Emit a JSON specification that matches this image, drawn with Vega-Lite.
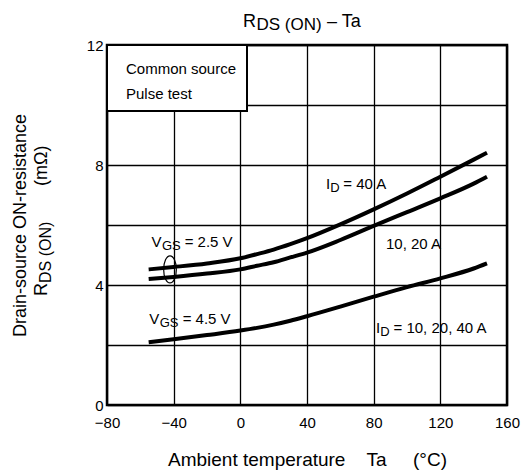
{
  "$schema": "https://vega.github.io/schema/vega-lite/v6.json",
  "width": 400,
  "height": 360,
  "autosize": {"type": "none"},
  "padding": {"left": 107, "top": 45, "right": 14, "bottom": 68},
  "background": "white",
  "config": {
    "view": {"stroke": "black", "strokeWidth": 2.5},
    "font": "Liberation Sans",
    "text": {"font": "Liberation Sans", "color": "black"}
  },
  "datasets": {
    "curves": [
      {"T": -55, "R": 4.52, "s": "40A"}, {"T": -40, "R": 4.60, "s": "40A"}, {"T": -20, "R": 4.72, "s": "40A"},
      {"T": 0, "R": 4.89, "s": "40A"}, {"T": 10, "R": 5.03, "s": "40A"}, {"T": 20, "R": 5.18, "s": "40A"},
      {"T": 30, "R": 5.36, "s": "40A"}, {"T": 40, "R": 5.56, "s": "40A"}, {"T": 60, "R": 6.02, "s": "40A"},
      {"T": 80, "R": 6.52, "s": "40A"}, {"T": 100, "R": 7.05, "s": "40A"}, {"T": 120, "R": 7.61, "s": "40A"},
      {"T": 140, "R": 8.18, "s": "40A"}, {"T": 148, "R": 8.41, "s": "40A"},
      {"T": -55, "R": 4.20, "s": "1020A"}, {"T": -40, "R": 4.27, "s": "1020A"}, {"T": -20, "R": 4.38, "s": "1020A"},
      {"T": 0, "R": 4.52, "s": "1020A"}, {"T": 10, "R": 4.64, "s": "1020A"}, {"T": 20, "R": 4.76, "s": "1020A"},
      {"T": 30, "R": 4.92, "s": "1020A"}, {"T": 40, "R": 5.08, "s": "1020A"}, {"T": 60, "R": 5.50, "s": "1020A"},
      {"T": 80, "R": 5.97, "s": "1020A"}, {"T": 100, "R": 6.43, "s": "1020A"}, {"T": 120, "R": 6.89, "s": "1020A"},
      {"T": 140, "R": 7.38, "s": "1020A"}, {"T": 148, "R": 7.61, "s": "1020A"},
      {"T": -55, "R": 2.09, "s": "45V"}, {"T": -40, "R": 2.19, "s": "45V"}, {"T": -20, "R": 2.33, "s": "45V"},
      {"T": 0, "R": 2.48, "s": "45V"}, {"T": 10, "R": 2.57, "s": "45V"}, {"T": 20, "R": 2.68, "s": "45V"},
      {"T": 30, "R": 2.81, "s": "45V"}, {"T": 40, "R": 2.96, "s": "45V"}, {"T": 60, "R": 3.28, "s": "45V"},
      {"T": 80, "R": 3.61, "s": "45V"}, {"T": 100, "R": 3.93, "s": "45V"}, {"T": 120, "R": 4.22, "s": "45V"},
      {"T": 140, "R": 4.55, "s": "45V"}, {"T": 148, "R": 4.72, "s": "45V"}
    ],
    "box": [{"T": -80, "T2": 4, "R": 9.8, "R2": 12}],
    "oval": [{"T": -42.2, "R": 4.52}],
    "notes": [
      {"T": 1.6, "R": 12.61, "txt": "R", "kind": "tn"},
      {"T": 9.7, "R": 12.61, "txt": "DS (ON)", "kind": "ts"},
      {"T": 52.0, "R": 12.61, "txt": "– Ta", "kind": "tn"},
      {"T": -116, "R": 3.633, "txt": "R", "kind": "yn"},
      {"T": -116, "R": 4.067, "txt": "DS (ON)", "kind": "ys"},
      {"T": -116, "R": 7.3, "txt": "(mΩ)", "kind": "yn"},
      {"T": -68.6, "R": 11.03, "txt": "Common source", "kind": "n"},
      {"T": -68.6, "R": 10.2, "txt": "Pulse test", "kind": "n"},
      {"T": -53.3, "R": 5.257, "txt": "V", "kind": "n"},
      {"T": -47.0, "R": 5.257, "txt": "GS", "kind": "s"},
      {"T": -33.4, "R": 5.257, "txt": "= 2.5 V", "kind": "n"},
      {"T": -54.6, "R": 2.7, "txt": "V", "kind": "n"},
      {"T": -48.4, "R": 2.7, "txt": "GS", "kind": "s"},
      {"T": -34.6, "R": 2.7, "txt": "= 4.5 V", "kind": "n"},
      {"T": 51.4, "R": 7.19, "txt": "I", "kind": "n"},
      {"T": 53.9, "R": 7.19, "txt": "D", "kind": "s"},
      {"T": 61.8, "R": 7.19, "txt": "= 40 A", "kind": "n"},
      {"T": 87.4, "R": 5.19, "txt": "10, 20 A", "kind": "n"},
      {"T": 81.4, "R": 2.4, "txt": "I", "kind": "n"},
      {"T": 83.9, "R": 2.4, "txt": "D", "kind": "s"},
      {"T": 91.9, "R": 2.4, "txt": "= 10, 20, 40 A", "kind": "n"}
    ]
  },
  "encoding": {
    "x": {
      "field": "T", "type": "quantitative",
      "scale": {"domain": [-80, 160], "nice": false, "zero": false},
      "axis": {
        "values": [-80, -40, 0, 40, 80, 120, 160],
        "grid": true, "gridColor": "black", "gridWidth": 1.3, "gridOpacity": 1,
        "domain": false, "ticks": false,
        "labelPadding": 10, "labelFontSize": 15, "labelColor": "black", "labelFlush": false,
        "labelFont": "Liberation Sans",
        "title": "Ambient temperature\u00a0\u00a0\u00a0\u00a0Ta\u00a0\u00a0\u00a0\u00a0\u00a0(°C)",
        "titleFont": "Liberation Sans", "titleFontSize": 19, "titleFontWeight": "normal", "titleColor": "black",
        "titleX": 200, "titleY": 60, "titleBaseline": "alphabetic", "titleAlign": "center"
      }
    },
    "y": {
      "field": "R", "type": "quantitative",
      "scale": {"domain": [0, 12], "nice": false, "zero": false},
      "axis": {
        "values": [0, 2, 4, 6, 8, 10, 12],
        "labelExpr": "datum.value % 4 === 0 ? datum.label : ''",
        "grid": true, "gridColor": "black", "gridWidth": 1.3, "gridOpacity": 1,
        "domain": false, "ticks": false,
        "labelPadding": 4, "labelFontSize": 15, "labelColor": "black", "labelFont": "Liberation Sans",
        "title": "Drain-source ON-resistance",
        "titleFont": "Liberation Sans", "titleFontSize": 18, "titleFontWeight": "normal", "titleColor": "black",
        "titleAngle": 270, "titleX": -81.5, "titleY": 180, "titleBaseline": "alphabetic", "titleAlign": "center"
      }
    }
  },
  "layer": [
    {
      "data": {"name": "curves"},
      "mark": {"type": "line", "color": "black", "strokeWidth": 4, "strokeCap": "butt", "interpolate": "monotone"},
      "encoding": {"detail": {"field": "s"}}
    },
    {
      "data": {"name": "box"},
      "mark": {"type": "rect", "fill": "white", "stroke": "black", "strokeWidth": 2},
      "encoding": {"x2": {"field": "T2"}, "y2": {"field": "R2"}}
    },
    {
      "data": {"name": "oval"},
      "mark": {"type": "point", "shape": "M0,-1A0.47,1,0,1,1,0,1A0.47,1,0,1,1,0,-1Z", "size": 729, "filled": false, "stroke": "black", "strokeWidth": 1.2, "opacity": 1}
    },
    {
      "data": {"name": "notes"},
      "transform": [{"filter": "datum.kind === 'n'"}],
      "mark": {"type": "text", "align": "left", "baseline": "alphabetic", "fontSize": 15, "color": "black"},
      "encoding": {"text": {"field": "txt"}}
    },
    {
      "data": {"name": "notes"},
      "transform": [{"filter": "datum.kind === 's'"}],
      "mark": {"type": "text", "align": "left", "baseline": "alphabetic", "fontSize": 13, "dy": 3, "color": "black"},
      "encoding": {"text": {"field": "txt"}}
    },
    {
      "data": {"name": "notes"},
      "transform": [{"filter": "datum.kind === 'tn'"}],
      "mark": {"type": "text", "align": "left", "baseline": "alphabetic", "fontSize": 18, "color": "black"},
      "encoding": {"text": {"field": "txt"}}
    },
    {
      "data": {"name": "notes"},
      "transform": [{"filter": "datum.kind === 'ts'"}],
      "mark": {"type": "text", "align": "left", "baseline": "alphabetic", "fontSize": 17, "dy": 3.5, "color": "black"},
      "encoding": {"text": {"field": "txt"}}
    },
    {
      "data": {"name": "notes"},
      "transform": [{"filter": "datum.kind === 'yn'"}],
      "mark": {"type": "text", "align": "left", "baseline": "alphabetic", "fontSize": 18, "angle": 270, "color": "black"},
      "encoding": {"text": {"field": "txt"}}
    },
    {
      "data": {"name": "notes"},
      "transform": [{"filter": "datum.kind === 'ys'"}],
      "mark": {"type": "text", "align": "left", "baseline": "alphabetic", "fontSize": 16, "angle": 270, "dy": 3.5, "color": "black"},
      "encoding": {"text": {"field": "txt"}}
    }
  ]
}
